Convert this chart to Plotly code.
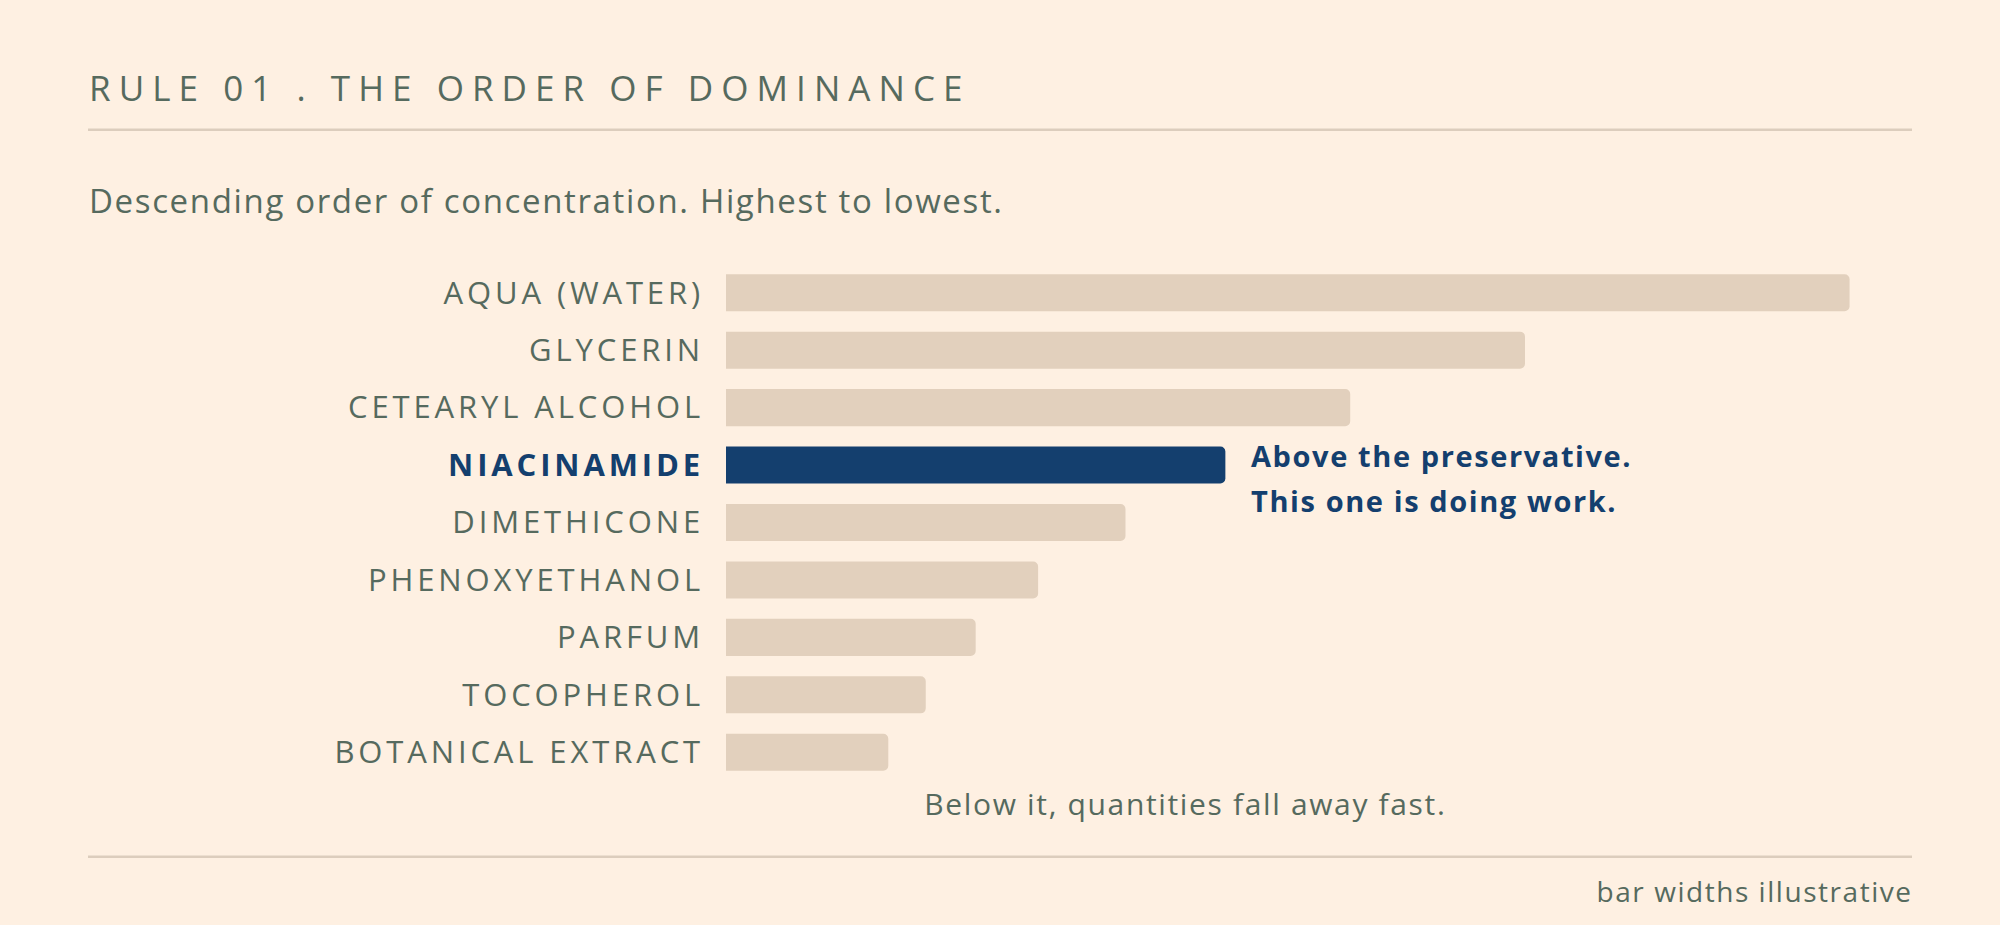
import json
import plotly.graph_objects as go

# ---- data ----
ingredients = ["AQUA (WATER)", "GLYCERIN", "CETEARYL ALCOHOL", "NIACINAMIDE",
               "DIMETHICONE", "PHENOXYETHANOL", "PARFUM", "TOCOPHEROL",
               "BOTANICAL EXTRACT"]
widths = [90, 64, 50, 40, 32, 25, 20, 16, 13]
highlight = "NIACINAMIDE"

title_text = "RULE 01 . THE ORDER OF DOMINANCE"
subtitle_text = "Descending order of concentration. Highest to lowest."
callout_lines = ["Above the preservative.", "This one is doing work."]
below_text = "Below it, quantities fall away fast."
footer_text = "bar widths illustrative"

# ---- style ----
BG = "#fef0e2"
TAN = "#e2d0bd"
NAVY = "#143f6e"
INK = "#566a5e"
RULE = "#dccdbd"
FONT = "Open Sans, Lato, sans-serif"

W, H = 2000, 925
L, R = 726, 1912
T, B = 264.3, 781.2

def px(x):
    return (x - L) / (R - L)

def py(y):
    return (B - y) / (B - T)

colors = [NAVY if n == highlight else TAN for n in ingredients]
ticktext = [f"<b><span style='color:{NAVY}'>{n}</span></b>" if n == highlight else n
            for n in ingredients]

fig = go.Figure(go.Bar(
    x=widths, y=ingredients, orientation="h",
    marker=dict(color=colors, line=dict(width=0), cornerradius=5),
    hoverinfo="skip",
))

fig.update_layout(
    width=W, height=H,
    margin=dict(l=L, r=W - R, t=T, b=H - B, pad=0),
    paper_bgcolor=BG, plot_bgcolor=BG,
    bargap=0.355,
    showlegend=False,
    font=dict(family=FONT, color=INK),
)
fig.update_xaxes(range=[0, 95], visible=False, fixedrange=True)
fig.update_yaxes(
    type="category", categoryorder="array", categoryarray=ingredients,
    range=[len(ingredients) - 0.5, -0.5],
    tickmode="array", tickvals=ingredients, ticktext=ticktext,
    showgrid=False, zeroline=False, showline=False, ticks="",
    ticklabelstandoff=21,
    tickfont=dict(family=FONT, size=31, color=INK),
    fixedrange=True,
)

for yy in (130, 857):
    fig.add_shape(type="line", xref="paper", yref="paper",
                  x0=px(88), x1=px(1912), y0=py(yy), y1=py(yy),
                  line=dict(color=RULE, width=2.5))

ann = []
ann.append(dict(text=title_text, x=px(87), y=py(88), xanchor="left", yanchor="middle",
                font=dict(size=35, color=INK, family=FONT)))
ann.append(dict(text=subtitle_text, x=px(87), y=py(201), xanchor="left", yanchor="middle",
                font=dict(size=33, color=INK, family=FONT)))
ann.append(dict(text=below_text, x=px(1185), y=py(804), xanchor="center", yanchor="middle",
                font=dict(size=30, color=INK, family=FONT)))
ann.append(dict(text=footer_text, x=px(1915), y=py(891), xanchor="right", yanchor="middle",
                font=dict(size=28, color=INK, family=FONT)))
for a in ann:
    a.update(xref="paper", yref="paper", showarrow=False)
    fig.add_annotation(**a)

hi_val = widths[ingredients.index(highlight)]
for line, ys in zip(callout_lines, (10, -35)):
    fig.add_annotation(text=f"<b>{line}</b>", x=hi_val, y=highlight, xref="x", yref="y",
                       xanchor="left", yanchor="middle", xshift=24, yshift=ys,
                       showarrow=False, font=dict(size=29, color=NAVY, family=FONT))

# letter-spacing (CSS) per text, with the anchor side kept in place
spacing = {
    title_text: ["0.23em", "l"],
    subtitle_text: ["0.05em", "l"],
    below_text: ["0.055em", "c"],
    footer_text: ["0.055em", "r"],
    callout_lines[0]: ["0.055em", "l"],
    callout_lines[1]: ["0.055em", "l"],
}
for n in ingredients:
    spacing[n] = ["0.125em", "r"]

post = """
document.body.style.margin = '0';
document.body.style.background = '%s';
var gd = document.getElementById('{plot_id}');
var SPEC = %s;
function applySpacing(){
  gd.querySelectorAll('text').forEach(function(t){
    var spec = SPEC[t.textContent];
    if (!spec || t.dataset.ls === spec[0]) return;
    var b0 = t.getBBox();
    t.style.letterSpacing = spec[0];
    var b1 = t.getBBox();
    var dx = 0;
    if (spec[1] === 'l') dx = b0.x - b1.x;
    else if (spec[1] === 'r') dx = (b0.x + b0.width) - (b1.x + b1.width);
    else dx = (b0.x + b0.width / 2) - (b1.x + b1.width / 2);
    var x = parseFloat(t.getAttribute('x') || '0');
    t.setAttribute('x', x + dx);
    t.dataset.ls = spec[0];
  });
}
applySpacing();
gd.on('plotly_afterplot', applySpacing);
""" % (BG, json.dumps(spacing))

fig.write_html("out.html", post_script=post, config={"displayModeBar": False})
